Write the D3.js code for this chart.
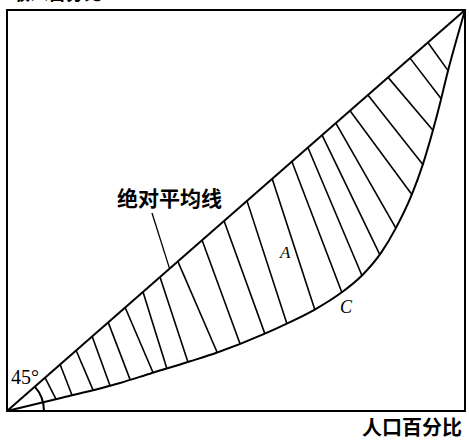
<!DOCTYPE html>
<html>
<head>
<meta charset="utf-8">
<script src="https://cdn.jsdelivr.net/npm/d3@7"></script>
<style>
  html, body { margin: 0; padding: 0; background: #fff; }
  svg { display: block; }
</style>
</head>
<body>
<svg id="chart" width="469" height="440"></svg>
<script>
// ---- data (percentages) ----
const curveX = [0, 12, 24.7, 31.2, 40, 45.9, 56.3, 61.1, 67.2, 73.1, 77.5, 81.7, 84.9, 88.4, 90.8, 93.0, 94.5, 96.1, 98, 100];
const curveY = [0, 3.3, 7.0, 9.3, 12.4, 14.6, 19.3, 21.8, 25.3, 29.6, 33.8, 39.5, 45.6, 54.0, 61.5, 70.0, 76.5, 84.0, 92, 100];
// hatch lines: start on the line of equality (x = y), end on the Lorenz curve
const hatchDiag  = [8.3, 11.6, 15.1, 18.6, 22.1, 25.8, 29.7, 33.4, 37.3, 42.6, 47.4, 52.4, 57.9, 62.2, 65.7, 68.8, 71.8, 74.9, 78.8, 83.2, 88.0, 91.9];
const hatchCurve = [10.7, 14.2, 18.8, 22.5, 26.9, 31.9, 34.9, 39.5, 45.9, 50.9, 56.3, 61.1, 67.2, 73.1, 77.5, 81.4, 84.9, 88.4, 90.8, 93.0, 94.8, 96.3];
const yTitle = "收入百分比";
const xTitle = "人口百分比";
const diagLabel = "绝对平均线";
const angleLabel = "45°";

// ---- drawing ----
const svg = d3.select("#chart");
const x = d3.scaleLinear().domain([0, 100]).range([7, 465]);
const y = d3.scaleLinear().domain([0, 100]).range([411, 10]);

const pts = curveX.map((v, i) => [v, curveY[i]]);
const line = d3.line().x(d => x(d[0])).y(d => y(d[1])).curve(d3.curveMonotoneX);

// Lorenz curve
const curvePath = svg.append("path")
  .attr("d", line(pts))
  .attr("fill", "none")
  .attr("stroke", "#000")
  .attr("stroke-width", 2);

const node = curvePath.node();
const total = node.getTotalLength();
function curveYAt(px) {
  let lo = 0, hi = total;
  for (let k = 0; k < 40; k++) {
    const mid = (lo + hi) / 2;
    if (node.getPointAtLength(mid).x < px) lo = mid; else hi = mid;
  }
  return node.getPointAtLength((lo + hi) / 2).y;
}

// hatch lines
svg.append("g").selectAll("line")
  .data(hatchDiag.map((d, i) => ({ d, c: hatchCurve[i] })))
  .join("line")
  .attr("x1", d => x(d.d))
  .attr("y1", d => y(d.d))
  .attr("x2", d => x(d.c))
  .attr("y2", d => curveYAt(x(d.c)))
  .attr("stroke", "#000")
  .attr("stroke-width", 1.6);

// line of equality
svg.append("line")
  .attr("x1", x(0)).attr("y1", y(0))
  .attr("x2", x(100)).attr("y2", y(100))
  .attr("stroke", "#000").attr("stroke-width", 2);

// frame
svg.append("rect")
  .attr("x", x(0)).attr("y", y(100))
  .attr("width", x(100) - x(0)).attr("height", y(0) - y(100))
  .attr("fill", "none").attr("stroke", "#000").attr("stroke-width", 2);

// 45° arc
const ang = Math.atan2(y(0) - y(100), x(100) - x(0));
const r = 37;
svg.append("path")
  .attr("d", d3.arc()({ innerRadius: r, outerRadius: r, startAngle: Math.PI / 2 - ang, endAngle: Math.PI / 2 }))
  .attr("transform", `translate(${x(0)},${y(0)})`)
  .attr("fill", "none").attr("stroke", "#000").attr("stroke-width", 2);

// labels
svg.append("text").text(yTitle)
  .attr("x", 12).attr("y", 0)
  .attr("font-family", "Noto Sans CJK SC").attr("font-weight", 700).attr("font-size", 18);

svg.append("text").text(xTitle)
  .attr("x", 462).attr("y", 435).attr("text-anchor", "end")
  .attr("font-family", "Noto Sans CJK SC").attr("font-weight", 700).attr("font-size", 20);

svg.append("text").text(diagLabel)
  .attr("x", 117).attr("y", 206)
  .attr("font-family", "Noto Sans CJK SC").attr("font-weight", 700).attr("font-size", 21);

svg.append("line")
  .attr("x1", 152).attr("y1", 213)
  .attr("x2", x(35.5)).attr("y2", y(35.5))
  .attr("stroke", "#000").attr("stroke-width", 1.3);

svg.append("text").text(angleLabel)
  .attr("x", 11).attr("y", 384)
  .attr("font-family", "Liberation Serif").attr("font-size", 20);

svg.append("text").text("A")
  .attr("x", 280).attr("y", 258)
  .attr("font-family", "Liberation Serif").attr("font-style", "italic").attr("font-size", 17);

svg.append("text").text("C")
  .attr("x", 340).attr("y", 313)
  .attr("font-family", "Liberation Serif").attr("font-style", "italic").attr("font-size", 18);
</script>
</body>
</html>
